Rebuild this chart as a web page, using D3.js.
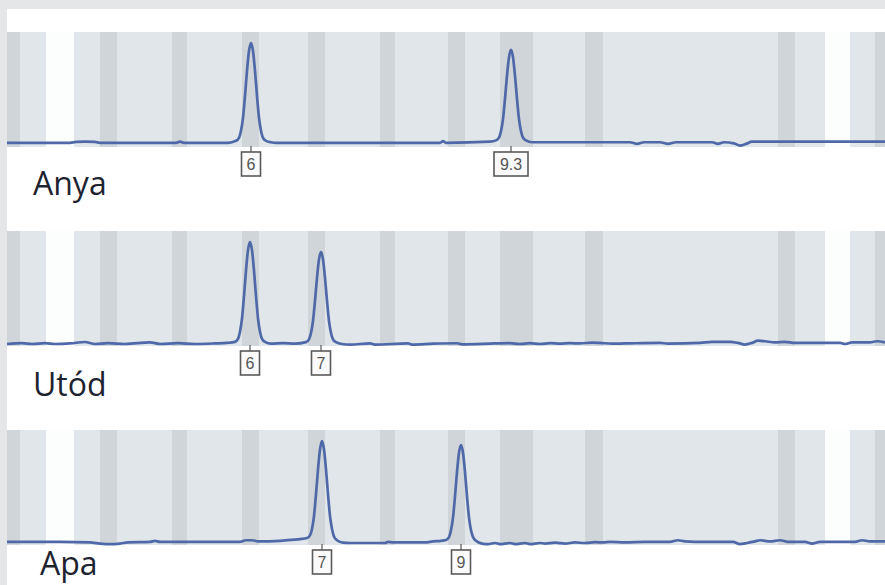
<!DOCTYPE html>
<html>
<head>
<meta charset="utf-8">
<script src="https://cdn.jsdelivr.net/npm/d3@7"></script>
<style>
  html, body { margin: 0; padding: 0; background: #fff; }
  svg { display: block; }
</style>
</head>
<body>
<svg id="chart" width="885" height="585"></svg>
<script>
// --- data: scan position (x) vs relative signal (0-100) ---
const panelNames = ["Anya", "Utód", "Apa"];

// allele bins drawn as darker stripes, and blank gaps in the ladder
const binStripes = [[2,15],[95,112],[167,182],[237,254],[303,320],[375,390],[443,460],[495,528],[580,598],[773,790],[870,880]];
const ladderGaps = [[41,69],[820,845]];

const traceAnya = [[2,2],[65,2],[71,2.8],[80,3],[90,2.8],[95,2],[171,2],[175,3],[179,2],[223,2],
  [231,3.8],[234,6.5],[236,12.9],[238,24.7],[240,44.6],[242,67.3],[244,85.4],[246,92.7],[248,85.4],[250,67.3],[252,44.6],[254,24.7],[256,12.9],[258,6.5],[261,3.8],[266,2.5],[272,2],
  [435,2],[438,3.5],[441,2],
  [485,3],[491,4.2],[494,6.7],[496,12.6],[498,23.5],[500,42],[502,63],[504,79.8],[506,86.4],[508,79.8],[510,63],[512,42],[514,23.5],[516,12.6],[518,6.7],[521,4.2],[527,2.5],
  [625,2.5],[632,1],[639,2.5],[655,2.5],[663,1],[671,2.5],[707,2.5],[713,1],[719,2.5],[729,1.5],[735,-0.5],[741,1],[747,3],[775,3],[880,3]];

const traceUtod = [[2,0],[17,0.8],[27,0],[40,0.8],[50,0],[65,0.5],[80,1.8],[90,0],[103,0.8],[120,0],[145,1.5],[155,0],[173,0.8],[190,0],[210,0.5],
  [222,1],[230,1.9],[233,4.6],[235,11.1],[237,23.2],[239,43.6],[241,66.7],[243,85.3],[245,92.7],[247,85.3],[249,66.7],[251,43.6],[253,23.2],[255,11.1],[257,4.6],[260,1.9],[266,0.3],[278,0.8],[290,0.3],
  [301,1.7],[304,4.2],[306,10],[308,20.9],[310,39.3],[312,60.2],[314,76.9],[316,83.6],[318,76.9],[320,60.2],[322,39.3],[324,20.9],[326,10],[328,4.2],[331,1.7],[337,0],
  [345,-0.5],[365,0.5],[370,-0.5],[403,0.5],[407,-0.5],[428,0.3],[452,0.7],[457,-0.3],[490,0.5],[505,0.8],[515,0],[525,0.8],[535,0],[545,0.8],[555,0.3],[565,0.8],[575,0.5],[587,1.3],[595,1],
  [607,0.3],[620,0.5],[655,1],[663,0.3],[695,1],[707,2],[725,2],[733,1],[740,-0.5],[747,1],[753,3],[760,2.5],[770,1.5],[780,2],[790,1],[800,1],[835,1],[840,0],[847,1.5],[865,1.5],[872,2.5],[880,1.5]];

const traceApa = [[2,1],[55,1],[85,0.5],[95,-0.5],[105,-1],[115,-0.5],[123,0.5],[145,1],[150,2],[155,1],[235,1],[241,2.5],[247,2.5],[253,1.5],[275,2],[290,3],
  [295,3.5],[302,4.5],[305,7],[307,12.8],[309,24.5],[311,44.3],[313,66.8],[315,85],[317,92.7],[319,85],[321,66.8],[323,44.3],[325,24.5],[327,12.8],[329,6],[332,2.5],[338,0.3],[345,0],
  [380,0],[383,1],[388,0.5],[420,0.5],[428,1.5],
  [436,2],[441,2.8],[444,5.4],[446,11.6],[448,23],[450,42.4],[452,64.4],[454,82],[456,89],[458,82],[460,64.4],[462,42.4],[464,23],[466,11.6],[468,5.4],[471,2],[477,-0.5],[483,-1],
  [490,0],[495,-1],[505,0],[510,-1],[520,0],[525,-1],[535,0],[540,-0.5],[550,0.3],[560,-0.5],[570,0.5],[580,0],[590,0.8],[598,0.5],
  [605,1],[620,0.5],[640,1],[665,1],[673,2.5],[680,1.5],[700,1],[728,1],[735,-1],[742,0],[750,1.5],[755,2.5],[765,1.5],[775,2.5],[783,1],[800,1],[807,-0.5],[815,1],[850,1],[857,2.5],[865,1.5],[880,1.5]];

const traces = [traceAnya, traceUtod, traceApa];

// called alleles: [position, label]
const allelesAnya = [[246, "6"], [506, "9.3"]];
const allelesUtod = [[245, "6"], [316, "7"]];
const allelesApa  = [[317, "7"], [456, "9"]];
const alleles = [allelesAnya, allelesUtod, allelesApa];

// --- layout ---
const width = 885, height = 585;
const frame = { left: 7, top: 9 };
const panelTops = [32, 231, 430];
const bandH = 113;
const nameX = [33, 33, 40];
const nameY = [195, 396, 575];

const svg = d3.select("#chart");

// outer grey frame (top and left edge of the screenshot)
svg.append("rect").attr("width", width).attr("height", height).attr("fill", "#e4e6e8");
svg.append("rect").attr("x", frame.left).attr("y", frame.top)
  .attr("width", width - frame.left).attr("height", height - frame.top).attr("fill", "#ffffff");

const x = d3.scaleLinear().domain([0, 880]).range([5, 885]);

panelNames.forEach((name, i) => {
  const top = panelTops[i];
  const base = top + bandH;
  const y = d3.scaleLinear().domain([0, 100]).range([base, base - 110]);
  const g = svg.append("g");

  // light ladder band
  g.append("rect").attr("x", x(2)).attr("y", top)
    .attr("width", x(880) - x(2)).attr("height", bandH + 2).attr("fill", "#e0e6ea");

  g.selectAll(".bin").data(binStripes).join("rect")
    .attr("x", d => x(d[0])).attr("width", d => x(d[1]) - x(d[0]))
    .attr("y", top).attr("height", bandH + 2).attr("fill", "#d0d5d9");

  g.selectAll(".gap").data(ladderGaps).join("rect")
    .attr("x", d => x(d[0])).attr("width", d => x(d[1]) - x(d[0]))
    .attr("y", top).attr("height", bandH + 2).attr("fill", "#fcfdfd");

  // trace
  const line = d3.line().x(d => x(d[0])).y(d => y(d[1])).curve(d3.curveMonotoneX);
  g.append("path").datum(traces[i]).attr("d", line)
    .attr("fill", "none").attr("stroke", "#4f69a8").attr("stroke-width", 2.7)
    .attr("stroke-linejoin", "round");

  // allele call boxes
  const calls = g.selectAll(".call").data(alleles[i]).join("g")
    .attr("transform", d => `translate(${x(d[0])},${base})`);
  calls.append("line").attr("y1", 1).attr("y2", 7).attr("stroke", "#555").attr("stroke-width", 1.2);
  calls.append("rect")
    .attr("x", d => -(d[1].length > 1 ? 17 : 9.5))
    .attr("width", d => d[1].length > 1 ? 34 : 19)
    .attr("y", 7).attr("height", 24)
    .attr("fill", "#fafafa").attr("stroke", "#5a5a5a").attr("stroke-width", 1.6);
  calls.append("text").attr("y", 25).attr("text-anchor", "middle")
    .attr("font-family", "Liberation Sans, Arial, sans-serif").attr("font-size", 16)
    .attr("fill", "#555").text(d => d[1]);

  // sample name
  svg.append("text").attr("x", nameX[i]).attr("y", nameY[i])
    .attr("font-family", "Open Sans, Noto Sans, sans-serif").attr("font-size", 32)
    .attr("fill", "#1e2330").text(name);
});
</script>
</body>
</html>
